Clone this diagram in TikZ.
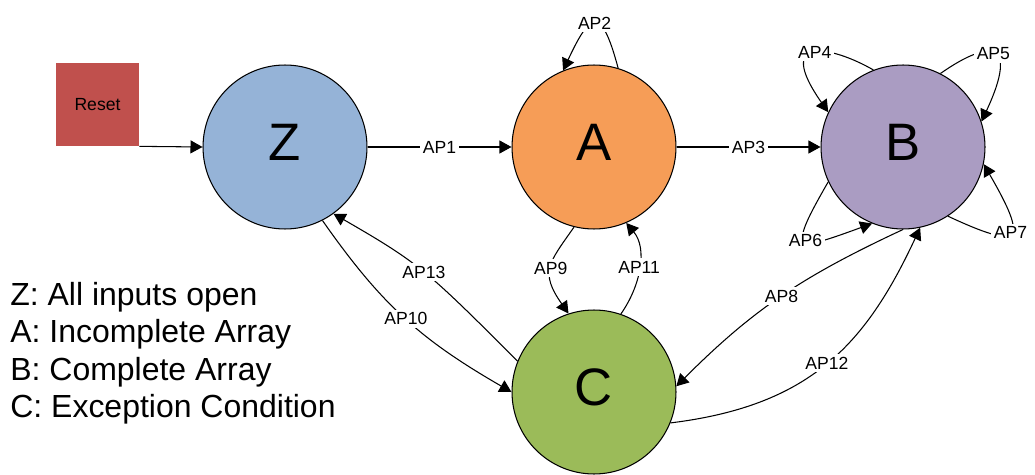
\documentclass[tikz,border=0pt]{standalone}
\usepackage{fontspec}
\setmainfont{Liberation Sans}
\usetikzlibrary{arrows.meta}

\definecolor{zblue}{RGB}{149,179,215}
\definecolor{aorange}{RGB}{246,157,87}
\definecolor{bpurple}{RGB}{170,156,194}
\definecolor{cgreen}{RGB}{155,187,89}
\definecolor{resetred}{RGB}{192,80,77}

\tikzset{
  state/.style={circle, draw=black, line width=0.6pt, minimum size=3.28cm, inner sep=0pt,
    text depth=0.18cm, font=\fontsize{30}{30}\selectfont},
  resetbox/.style={fill=resetred, minimum size=1.66cm, inner sep=0pt,
    font=\fontsize{10}{12}\selectfont},
  trans/.style={-{Triangle[length=2.4mm,width=2.6mm]}, line width=0.6pt},
  aplabel/.style={fill=white, inner sep=1.5pt, font=\fontsize{10}{12}\selectfont},
  legendtext/.style={anchor=base west, inner sep=0pt, font=\fontsize{18.2}{20}\selectfont},
}

\begin{document}
\begin{tikzpicture}[x=0.02cm, y=0.02cm]
    \useasboundingbox (0,0) rectangle (1035,474);

    % 状態
    \node[state, fill=zblue] (Z) at (285,327) {Z};
    \node[state, fill=aorange] (A) at (594,327) {A};
    \node[state, fill=bpurple] (B) at (903,327) {B};
    \node[state, fill=cgreen] (C) at (594,82) {C};

    % リセット
    \node[resetbox] (reset) at (97.5,369.5) {Reset};
    \draw[trans] (reset.south east) -- (Z.west);

    % 遷移
    \draw[trans] (Z.east) -- node[aplabel] {AP1} (A.west);
    \draw[trans] (A.east) -- node[aplabel] {AP3} (B.west);
    \draw[trans] (A.73) to[out=105, in=65, distance=1.3cm] node[aplabel] {AP2} (A.112);

    % Bの自己ループ
    \draw[trans] (B.111) to[out=150, in=125, out distance=0.96cm, in distance=1.91cm] node[aplabel] {AP4} (B.155);
    \draw[trans] (B.63) to[out=35, in=65, out distance=1.16cm, in distance=1.84cm] node[aplabel] {AP5} (B.18);
    \draw[trans] (B.205) to[out=240, in=200, out distance=1.68cm, in distance=1.64cm] node[aplabel] {AP6} (B.248);
    \draw[trans] (B.303) to[out=335, in=300, out distance=1.64cm, in distance=1.8cm] node[aplabel] {AP7} (B.348);

    % Cとの遷移
    \draw[trans] (B.270) to[out=205, in=45, distance=2.2cm] node[aplabel] {AP8} (C.4);
    \draw[trans] (C.338) to[out=7, in=245, out distance=2.8cm, in distance=2.6cm] node[aplabel] {AP12} (B.282);
    \draw[trans] (A.256) to[out=235, in=125, out distance=0.88cm, in distance=1.02cm] node[aplabel] {AP9} (C.108);
    \draw[trans] (C.71) to[out=55, in=-50, out distance=0.71cm, in distance=0.66cm] node[aplabel] {AP11} (A.293);
    \draw[trans] (Z.297) to[out=305, in=150, out distance=2.09cm, in distance=2.07cm] node[aplabel] {AP10} (C.180);
    \draw[trans] (C.158) to[out=135, in=-30, out distance=2.57cm, in distance=2cm] node[aplabel] {AP13} (Z.306);

    % 凡例
    \node[legendtext] (legZ) at (10,168.5) {Z: All inputs open};
    \node[legendtext] (legA) at (10,131.2) {A: Incomplete Array};
    \node[legendtext] (legB) at (10,93.9) {B: Complete Array};
    \node[legendtext] (legC) at (10,56.6) {C: Exception Condition};
\end{tikzpicture}
\end{document}
